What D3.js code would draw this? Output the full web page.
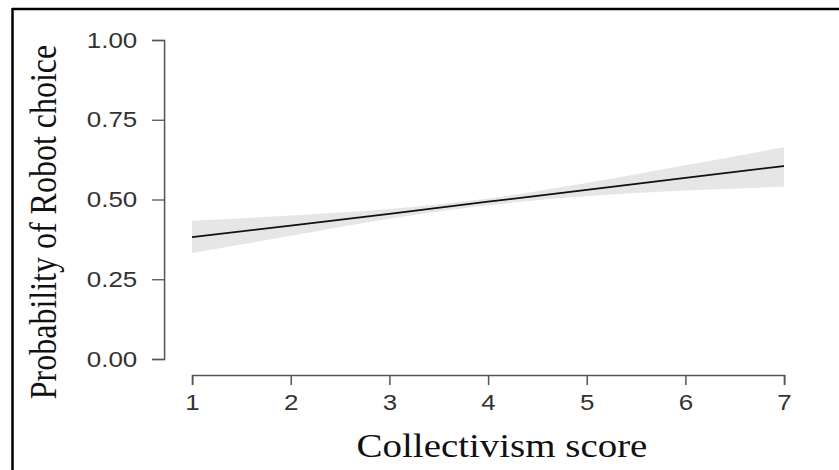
<!DOCTYPE html>
<html>
<head>
<meta charset="utf-8">
<script src="https://cdn.jsdelivr.net/npm/d3@7"></script>
<style>
  html, body { margin: 0; padding: 0; background: #fff; }
  svg { display: block; }
</style>
</head>
<body>
<div id="chart"></div>
<script>
// collectivism score vs predicted probability of robot choice
const scores = [1, 2, 3, 4, 5, 6, 7];
const fitted = [0.382, 0.418, 0.455, 0.493, 0.530, 0.568, 0.605];
const upper = [0.433, 0.450, 0.470, 0.503, 0.552, 0.607, 0.664];
const lower = [0.332, 0.386, 0.440, 0.482, 0.510, 0.528, 0.540];
const yTicks = [0, 0.25, 0.5, 0.75, 1];

const width = 839;
const height = 470;
const sx = 1.18; // picture is stretched sideways

const svg = d3.select('#chart')
  .append('svg')
  .attr('width', width)
  .attr('height', height);

// frame
svg.append('line')
  .attr('x1', 12).attr('x2', width)
  .attr('y1', 9).attr('y2', 9)
  .style('stroke', '#000').style('stroke-width', 2.5);
svg.append('line')
  .attr('x1', 12.5).attr('x2', 12.5)
  .attr('y1', 8).attr('y2', height)
  .style('stroke', '#000').style('stroke-width', 2.5);

const g = svg.append('g').attr('transform', `scale(${sx},1)`);

const x = d3.scaleLinear().domain([1, 7]).range([192 / sx, 784 / sx]);
const y = d3.scaleLinear().domain([0, 1]).range([359, 40]);

const data = scores.map((s, i) => ({ s, fit: fitted[i], lo: lower[i], hi: upper[i] }));

g.append('path')
  .datum(data)
  .attr('d', d3.area().x(d => x(d.s)).y0(d => y(d.lo)).y1(d => y(d.hi)).curve(d3.curveMonotoneX))
  .style('fill', '#e6e6e6');

g.append('path')
  .datum(data)
  .attr('d', d3.line().x(d => x(d.s)).y(d => y(d.fit)).curve(d3.curveMonotoneX))
  .style('fill', 'none')
  .style('stroke', '#111')
  .style('stroke-width', 1.8);

// y axis
const yAxis = g.append('g')
  .attr('transform', `translate(${164 / sx},0)`)
  .call(d3.axisLeft(y).tickValues(yTicks).tickFormat(d3.format('.2f')).tickSize(12 / sx).tickPadding(12.5));

// x axis
const xAxis = g.append('g')
  .attr('transform', 'translate(0,375)')
  .call(d3.axisBottom(x).tickValues(scores).tickFormat(d3.format('d')).tickSize(10).tickPadding(9));

[yAxis, xAxis].forEach(a => {
  a.select('.domain').style('stroke', '#555').style('stroke-width', 1.3);
  a.selectAll('.tick line').style('stroke', '#555').style('stroke-width', 1.3);
  a.selectAll('.tick text')
    .style('font-family', 'Liberation Sans, Arial, sans-serif')
    .style('font-size', '22px')
    .style('fill', '#333');
});

// titles
g.append('text')
  .attr('x', 502 / sx)
  .attr('y', 457)
  .attr('text-anchor', 'middle')
  .style('font-family', 'Liberation Serif, Times New Roman, serif')
  .style('font-size', '33px')
  .style('fill', '#111')
  .text('Collectivism score');

g.append('text')
  .attr('transform', `translate(${56 / sx},222) rotate(-90)`)
  .attr('text-anchor', 'middle')
  .style('font-family', 'Liberation Serif, Times New Roman, serif')
  .style('font-size', '32px')
  .style('fill', '#111')
  .text('Probability of Robot choice');
</script>
</body>
</html>
